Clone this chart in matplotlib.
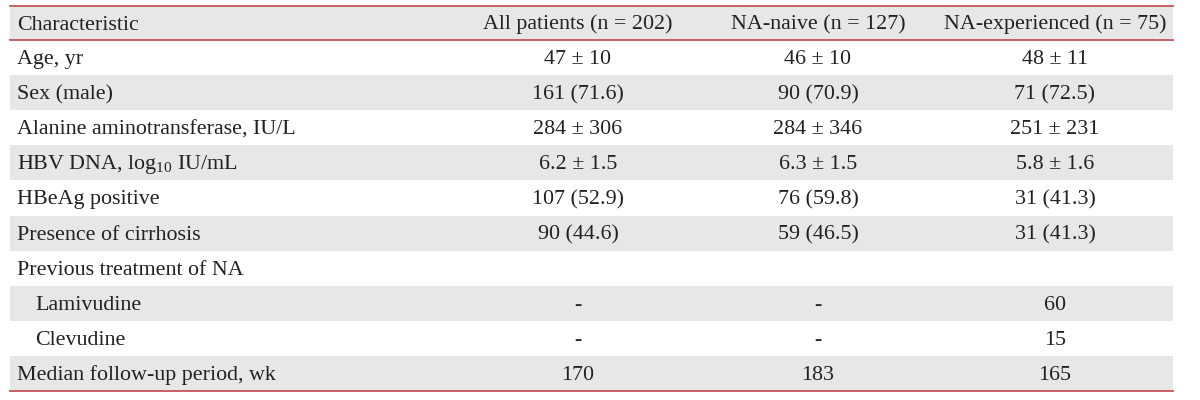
import matplotlib.pyplot as plt
from matplotlib.patches import Rectangle

plt.rcParams['font.family'] = ['Liberation Serif', 'DejaVu Serif']
plt.rcParams['mathtext.default'] = 'regular'

# Table content
header = ["Characteristic", "All patients (n = 202)", "NA-naive (n = 127)", "NA-experienced (n = 75)"]
characteristics = [
    "Age, yr",
    "Sex (male)",
    "Alanine aminotransferase, IU/L",
    "HBV DNA, log$_{10}$ IU/mL",
    "HBeAg positive",
    "Presence of cirrhosis",
    "Previous treatment of NA",
    "Lamivudine",
    "Clevudine",
    "Median follow-up period, wk",
]
indented = [False, False, False, False, False, False, False, True, True, False]
all_patients = ["47 ± 10", "161 (71.6)", "284 ± 306", "6.2 ± 1.5", "107 (52.9)", "90 (44.6)", "", "-", "-", "170"]
na_naive = ["46 ± 10", "90 (70.9)", "284 ± 346", "6.3 ± 1.5", "76 (59.8)", "59 (46.5)", "", "-", "-", "183"]
na_experienced = ["48 ± 11", "71 (72.5)", "251 ± 231", "5.8 ± 1.6", "31 (41.3)", "31 (41.3)", "", "60", "15", "165"]

# Layout (pixels)
left, right = 10, 1173
top, head_bottom = 6, 40
row_h = 35.1
col_x = [17, 578, 818, 1055]
base_off = 6.5  # baseline below row centre
gray = "#e7e7e7"
red = "#c0555b"
fs = 15.8

fig = plt.figure(figsize=(12, 4), dpi=100)
ax = fig.add_axes([0, 0, 1, 1])
ax.set_xlim(0, 1200)
ax.set_ylim(400, 0)
ax.axis("off")

# header band
hy = (top + head_bottom) / 2 + base_off
ax.add_patch(Rectangle((left, top), right - left, head_bottom - top, color=gray, lw=0))
ax.text(col_x[0], hy, header[0], ha="left", va="baseline", fontsize=fs, color="#222222")
for j in range(1, 4):
    ax.text(col_x[j], hy, header[j], ha="center", va="baseline", fontsize=fs, color="#222222")

columns = [all_patients, na_naive, na_experienced]
for i, name in enumerate(characteristics):
    y0 = head_bottom + i * row_h
    yb = y0 + row_h / 2 + base_off
    if i % 2 == 1:
        ax.add_patch(Rectangle((left, y0), right - left, row_h, color=gray, lw=0))
    x = col_x[0] + (18 if indented[i] else 0)
    ax.text(x, yb, name, ha="left", va="baseline", fontsize=fs, color="#222222")
    for j, col in enumerate(columns):
        ax.text(col_x[j + 1], yb, col[i], ha="center", va="baseline", fontsize=fs, color="#222222",
                fontweight="bold" if col[i] == "-" else "normal")

bottom = head_bottom + len(characteristics) * row_h
ax.plot([left, right], [top, top], color=red, lw=1.3)
ax.plot([left, right], [head_bottom, head_bottom], color=red, lw=1.3)
ax.plot([left, right], [bottom, bottom], color=red, lw=1.3)

fig.savefig("out.png", dpi=100)
